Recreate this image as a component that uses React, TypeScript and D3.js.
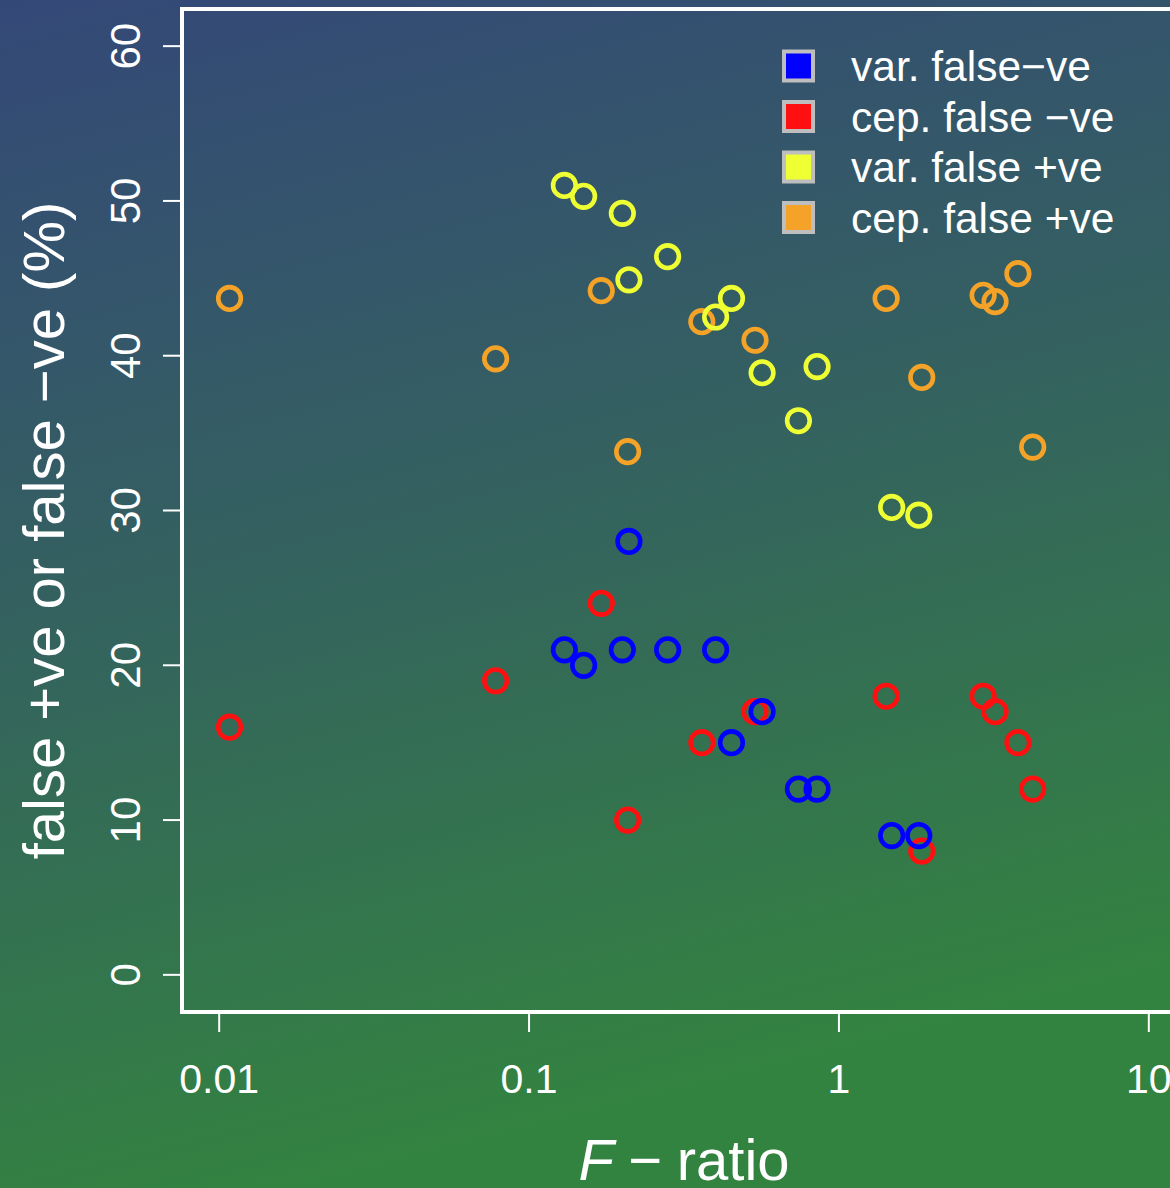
import React, { useRef, useEffect } from 'react';
import * as d3 from 'd3';

// F-ratio per site, shared by the two "var." series and the two "cep." series
const varF = [0.13, 0.15, 0.2, 0.21, 0.28, 0.4, 0.45, 0.565, 0.74, 0.85, 1.48, 1.81];
const varFalseNeg = [21, 20, 21, 28, 21, 21, 15, 17, 12, 12, 9, 9];
const varFalsePos = [51, 50.3, 49.2, 44.9, 46.4, 42.5, 43.7, 38.9, 35.8, 39.3, 30.2, 29.7];

const cepF = [0.0108, 0.078, 0.171, 0.208, 0.361, 0.536, 1.42, 1.85, 2.92, 3.19, 3.78, 4.22];
const cepFalseNeg = [16, 19, 24, 10, 15, 17, 18, 8, 18, 17, 15, 12];
const cepFalsePos = [43.7, 39.8, 44.2, 33.8, 42.2, 41.0, 43.7, 38.6, 43.9, 43.5, 45.3, 34.1];

const xTicks = [0.01, 0.1, 1, 10];
const xTickLabels = ['0.01', '0.1', '1', '10'];
const yTicks = [0, 10, 20, 30, 40, 50, 60];

const legendLabels = ['var. false\u2212ve', 'cep. false \u2212ve', 'var. false +ve', 'cep. false +ve'];
const legendColors = ['#0000ff', '#ff1010', '#eeff33', '#f5a328'];

const W = 1170;
const H = 1188;
const FONT = '"Liberation Sans", Arial, Helvetica, sans-serif';

const App = () => {
  const svgRef = useRef<SVGSVGElement | null>(null);

  useEffect(() => {
    if (!svgRef.current) return;
    document.body.style.margin = '0';

    const svg = d3.select(svgRef.current);
    svg.selectAll('*').remove();

    // background gradient, blue top-left to green bottom-right
    const defs = svg.append('defs');
    const grad = defs
      .append('linearGradient')
      .attr('id', 'bg')
      .attr('x1', '0%')
      .attr('y1', '0%')
      .attr('x2', '25%')
      .attr('y2', '100%');
    grad.append('stop').attr('offset', '0%').attr('stop-color', '#344878');
    grad.append('stop').attr('offset', '50%').attr('stop-color', '#34625f');
    grad.append('stop').attr('offset', '100%').attr('stop-color', '#338340');
    svg.append('rect').attr('width', W).attr('height', H).attr('fill', 'url(#bg)');

    // R style: 4% padding beyond the limits
    const left = 182;
    const right = 1186;
    const top = 9;
    const bottom = 1012;
    const lx = [Math.log10(0.01), Math.log10(10)];
    const padX = (lx[1] - lx[0]) * 0.04;
    const x = d3
      .scaleLog()
      .domain([Math.pow(10, lx[0] - padX), Math.pow(10, lx[1] + padX)])
      .range([left, right]);
    const y = d3
      .scaleLinear()
      .domain([0 - 60 * 0.04, 60 + 60 * 0.04])
      .range([bottom, top]);

    // points: cep first, var on top
    const series = [
      { xs: cepF, ys: cepFalseNeg, color: legendColors[1] },
      { xs: cepF, ys: cepFalsePos, color: legendColors[3] },
      { xs: varF, ys: varFalseNeg, color: legendColors[0] },
      { xs: varF, ys: varFalsePos, color: legendColors[2] },
    ];
    series.forEach(s => {
      svg
        .append('g')
        .selectAll('circle')
        .data(s.ys)
        .enter()
        .append('circle')
        .attr('cx', (d, i) => x(s.xs[i]))
        .attr('cy', d => y(d))
        .attr('r', 11.3)
        .attr('fill', 'none')
        .attr('stroke', s.color)
        .attr('stroke-width', 4.6);
    });

    // box
    svg
      .append('rect')
      .attr('x', left)
      .attr('y', top)
      .attr('width', right - left)
      .attr('height', bottom - top)
      .attr('fill', 'none')
      .attr('stroke', 'white')
      .attr('stroke-width', 4);

    // x axis
    const xAxis = svg.append('g');
    xAxis
      .selectAll('line')
      .data(xTicks)
      .enter()
      .append('line')
      .attr('x1', d => x(d))
      .attr('x2', d => x(d))
      .attr('y1', bottom)
      .attr('y2', bottom + 20)
      .attr('stroke', 'white')
      .attr('stroke-width', 2);
    xAxis
      .selectAll('text')
      .data(xTicks)
      .enter()
      .append('text')
      .attr('x', d => x(d))
      .attr('y', 1093)
      .attr('text-anchor', 'middle')
      .attr('fill', 'white')
      .attr('font-family', FONT)
      .attr('font-size', 41)
      .text((d, i) => xTickLabels[i]);

    // y axis
    const yAxis = svg.append('g');
    yAxis
      .selectAll('line')
      .data(yTicks)
      .enter()
      .append('line')
      .attr('x1', left - 19)
      .attr('x2', left)
      .attr('y1', d => y(d))
      .attr('y2', d => y(d))
      .attr('stroke', 'white')
      .attr('stroke-width', 2);
    yAxis
      .selectAll('text')
      .data(yTicks)
      .enter()
      .append('text')
      .attr('transform', d => `translate(140, ${y(d)}) rotate(-90)`)
      .attr('text-anchor', 'middle')
      .attr('fill', 'white')
      .attr('font-family', FONT)
      .attr('font-size', 42)
      .text(d => String(d));

    // axis titles
    svg
      .append('text')
      .attr('transform', `translate(64, ${(top + bottom) / 2 + 20}) rotate(-90)`)
      .attr('text-anchor', 'middle')
      .attr('fill', 'white')
      .attr('font-family', FONT)
      .attr('font-size', 58)
      .text('false +ve or false \u2212ve (%)');

    const xt = svg
      .append('text')
      .attr('x', (left + right) / 2)
      .attr('y', 1180)
      .attr('text-anchor', 'middle')
      .attr('fill', 'white')
      .attr('font-family', FONT)
      .attr('font-size', 58);
    xt.append('tspan').attr('font-style', 'italic').text('F');
    xt.append('tspan').text('\u2005\u2212\u2005ratio');

    // legend
    const lg = svg.append('g');
    legendLabels.forEach((lab, i) => {
      const cy = 66 + i * 50.5;
      lg.append('rect')
        .attr('x', 784)
        .attr('y', cy - 14.5)
        .attr('width', 29)
        .attr('height', 29)
        .attr('fill', legendColors[i])
        .attr('stroke', '#bebebe')
        .attr('stroke-width', 4);
      lg.append('text')
        .attr('x', 851)
        .attr('y', cy + 15)
        .attr('fill', 'white')
        .attr('font-family', FONT)
        .attr('font-size', 42.5)
        .text(lab);
    });
  }, []);

  return (
    <div style={{ width: W, height: H }}>
      <svg ref={svgRef} width={W} height={H} style={{ display: 'block' }}></svg>
    </div>
  );
};

export default App;
